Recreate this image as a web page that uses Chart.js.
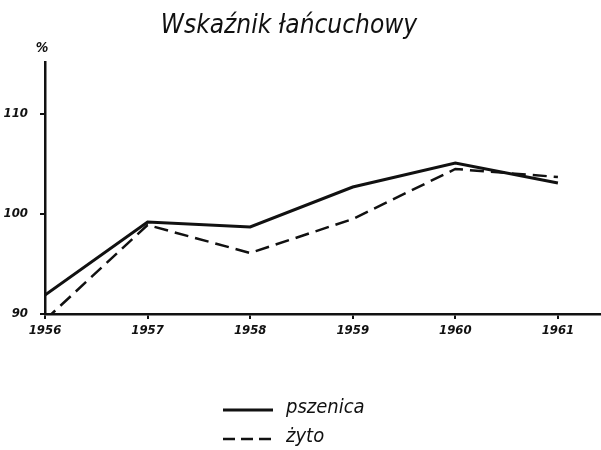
<!DOCTYPE html>
<html>
<head>
<meta charset="utf-8">
<script src="https://cdn.jsdelivr.net/npm/chart.js@4.4.1/dist/chart.umd.min.js"></script>
<style>
  html, body { margin: 0; padding: 0; background: #fff; }
  #wrap { width: 601px; height: 450px; }
</style>
</head>
<body>
<div id="wrap"><canvas id="chart" width="601" height="450"></canvas></div>
<script>
// Data
const years = [1956, 1957, 1958, 1959, 1960, 1961];
const pszenica = [91.9, 99.2, 98.7, 102.7, 105.1, 103.1];
const zyto = [89.4, 98.9, 96.1, 99.5, 104.5, 103.7];
const seriesLabels = ['pszenica', 'żyto'];
const titleText = 'Wskaźnik łańcuchowy';
const unitText = '%';

const FONT = '"DejaVu Sans Condensed", "DejaVu Sans", sans-serif';
const INK = '#111';

const toPoints = (vals) => years.map((y, i) => ({ x: y, y: vals[i] }));

// Title, unit label and the legend under the plot
const annotations = {
  id: 'annotations',
  afterDraw(chart) {
    const ctx = chart.ctx;
    const area = chart.chartArea;
    ctx.save();
    ctx.fillStyle = INK;

    ctx.font = 'italic 26px ' + FONT;
    ctx.textAlign = 'center';
    ctx.textBaseline = 'alphabetic';
    ctx.fillText(titleText, 289, 33);

    ctx.font = 'italic bold 14px ' + FONT;
    ctx.fillText(unitText, area.left - 3, 52);

    // legend
    ctx.textAlign = 'left';
    ctx.textBaseline = 'middle';
    ctx.font = 'italic 20px ' + FONT;
    chart.data.datasets.forEach((ds, i) => {
      const y = 410 + i * 29;
      ctx.beginPath();
      ctx.lineWidth = ds.borderWidth;
      ctx.strokeStyle = ds.borderColor;
      ctx.setLineDash(ds.borderDash ? [12, 6] : []);
      ctx.moveTo(223, y);
      ctx.lineTo(273, y);
      ctx.stroke();
      ctx.setLineDash([]);
      ctx.fillText(ds.label, 286, y - 2);
    });
    ctx.restore();
  }
};

const tickFont = { family: FONT, size: 13, style: 'italic', weight: 'bold' };

new Chart(document.getElementById('chart'), {
  type: 'line',
  data: {
    datasets: [
      {
        label: seriesLabels[0],
        data: toPoints(pszenica),
        borderColor: INK,
        borderWidth: 3,
        pointRadius: 0,
        tension: 0
      },
      {
        label: seriesLabels[1],
        data: toPoints(zyto),
        borderColor: INK,
        borderWidth: 2.5,
        borderDash: [14, 7],
        pointRadius: 0,
        tension: 0
      }
    ]
  },
  options: {
    responsive: false,
    animation: false,
    layout: { padding: { top: 62, right: 0, bottom: 100, left: 0 } },
    plugins: {
      legend: { display: false },
      title: { display: false },
      tooltip: { enabled: false }
    },
    scales: {
      x: {
        type: 'linear',
        min: 1956,
        max: 1961.42,
        afterFit(scale) { scale.height = 36; },
        border: { display: true, color: INK, width: 2.5 },
        grid: {
          drawOnChartArea: false,
          drawTicks: true,
          tickLength: 5,
          color: INK,
          lineWidth: 2
        },
        ticks: {
          stepSize: 1,
          includeBounds: false,
          color: INK,
          padding: 4,
          font: tickFont,
          callback: (v) => String(v)
        }
      },
      y: {
        min: 90,
        max: 115.2,
        afterFit(scale) { scale.width = 45; },
        border: { display: true, color: INK, width: 2.5 },
        grid: {
          drawOnChartArea: false,
          drawTicks: true,
          tickLength: 5,
          color: INK,
          lineWidth: 2
        },
        ticks: {
          stepSize: 10,
          includeBounds: false,
          color: INK,
          padding: 12,
          font: tickFont
        }
      }
    }
  },
  plugins: [annotations]
});
</script>
</body>
</html>
